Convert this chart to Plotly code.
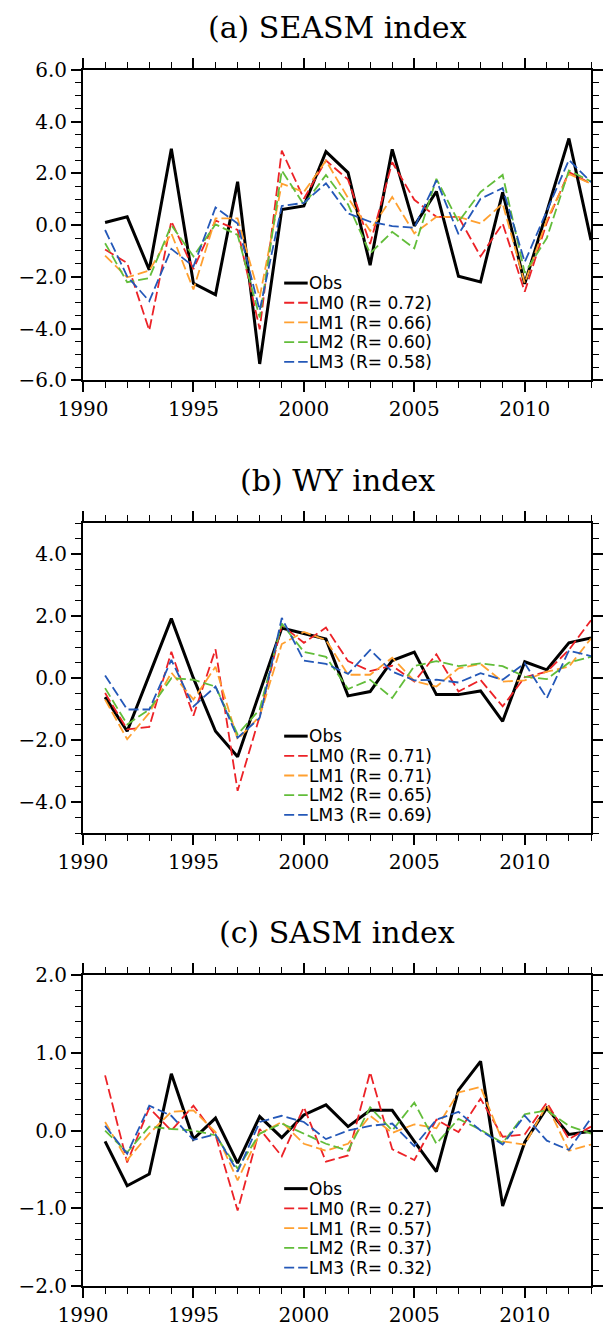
import plotly.graph_objects as go

years = list(range(1991, 2014))

# (a) SEASM index
obs_a = [0.10, 0.32, -1.73, 2.95, -2.25, -2.69, 1.68, -5.37, 0.60, 0.74, 2.84, 2.03,
         -1.55, 2.93, -0.03, 1.30, -1.98, -2.20, 1.27, -2.27, 0.52, 3.35, -0.58]
lm0_a = [-0.94, -1.47, -4.07, 0.15, -1.70, 0.18, -0.19, -4.03, 2.88, 1.02, 2.50, 1.76,
         -0.73, 2.43, 0.98, 0.32, 0.32, -1.21, 0.06, -2.58, 0.10, 2.05, 1.60]
lm1_a = [-1.18, -2.02, -1.76, -0.32, -2.49, 0.26, 0.26, -2.79, 1.60, 1.28, 2.49, 1.05,
         -0.22, 1.09, -0.32, 0.32, 0.32, 0.06, 0.83, -2.24, 0.20, 1.98, 1.60]
lm2_a = [-0.70, -2.21, -2.05, 0.00, -1.21, 0.03, -0.38, -3.58, 2.11, 0.79, 1.94, 0.80,
         -1.09, -0.26, -0.90, 1.79, 0.13, 1.28, 1.94, -1.85, -0.50, 2.11, 1.69]
lm3_a = [-0.19, -1.98, -2.94, -0.92, -1.60, 0.68, 0.06, -3.30, 0.74, 0.86, 1.62, 0.45,
         0.13, -0.04, -0.10, 1.73, -0.35, 1.02, 1.43, -1.43, 0.55, 2.52, 1.66]
r_a = ["0.72", "0.66", "0.60", "0.58"]

# (b) WY index
obs_b = [-0.61, -1.71, 0.10, 1.92, 0.00, -1.71, -2.53, -0.45, 1.62, 1.44, 1.26, -0.57,
         -0.43, 0.57, 0.84, -0.53, -0.53, -0.41, -1.39, 0.53, 0.27, 1.14, 1.30]
lm0_b = [-0.48, -1.65, -1.57, 0.85, -1.21, 0.93, -3.63, -1.23, 1.71, 1.14, 1.63, 0.55,
         0.23, 0.40, -0.11, 0.77, -0.43, -0.06, -0.91, 0.03, 0.21, 0.91, 1.87]
lm1_b = [-0.69, -1.97, -1.12, 0.18, -0.69, 0.37, -1.97, -1.23, 1.10, 1.49, 1.23, 0.11,
         0.11, 0.66, -0.09, -0.27, 0.32, 0.46, -0.11, -0.07, 0.21, 0.37, 1.28]
lm2_b = [-0.32, -1.49, -1.01, 0.00, -0.05, -0.27, -1.81, -1.01, 1.76, 0.85, 0.69, -0.35,
         -0.05, -0.64, 0.39, 0.55, 0.39, 0.48, 0.39, 0.05, -0.03, 0.50, 0.69]
lm3_b = [0.09, -1.01, -1.01, 0.59, -0.91, -0.27, -1.92, -1.28, 1.94, 0.57, 0.46, 0.14,
         0.91, 0.21, -0.07, -0.05, -0.14, 0.16, -0.05, 0.48, -0.64, 0.89, 0.71]
r_b = ["0.71", "0.71", "0.65", "0.69"]

# (c) SASM index
obs_c = [-0.14, -0.71, -0.56, 0.73, -0.11, 0.16, -0.42, 0.18, -0.09, 0.20, 0.33, 0.05,
         0.26, 0.26, -0.14, -0.53, 0.52, 0.89, -0.97, -0.15, 0.29, -0.05, -0.01]
lm0_c = [0.71, -0.41, 0.29, 0.00, 0.32, -0.06, -1.03, 0.02, -0.33, 0.30, -0.40, -0.32,
         0.75, -0.24, -0.38, 0.14, -0.02, 0.41, -0.08, -0.05, 0.36, -0.11, 0.05]
lm1_c = [0.11, -0.38, -0.04, 0.24, 0.26, -0.02, -0.64, -0.04, 0.11, -0.17, -0.26, -0.17,
         0.19, -0.03, 0.08, 0.03, 0.49, 0.56, -0.14, -0.18, 0.33, -0.26, -0.18]
lm2_c = [0.00, -0.28, 0.05, 0.02, 0.00, -0.06, -0.49, -0.04, 0.09, -0.04, -0.17, -0.26,
         0.30, 0.00, 0.36, -0.17, 0.15, 0.01, -0.16, 0.21, 0.26, 0.06, -0.04]
lm3_c = [0.06, -0.30, 0.32, 0.19, -0.12, -0.05, -0.53, 0.11, 0.19, 0.11, -0.11, 0.00,
         0.06, 0.09, -0.20, 0.14, 0.24, 0.00, -0.18, 0.19, -0.13, -0.25, 0.16]
r_c = ["0.27", "0.57", "0.37", "0.32"]

model_names = ["LM0", "LM1", "LM2", "LM3"]
model_colors = ["#ec2227", "#ffa030", "#62bd3a", "#2458b8"]
titles = ["(a) SEASM index", "(b) WY index", "(c) SASM index"]

panels = [
    dict(obs=obs_a, models=[lm0_a, lm1_a, lm2_a, lm3_a], r=r_a, yr=[-6, 6],
         tickvals=[-6, -4, -2, 0, 2, 4, 6], minor=0.5, dom=[0.7449, 1.0]),
    dict(obs=obs_b, models=[lm0_b, lm1_b, lm2_b, lm3_b], r=r_b, yr=[-5, 5],
         tickvals=[-4, -2, 0, 2, 4], minor=0.5, dom=[0.3723, 0.6274]),
    dict(obs=obs_c, models=[lm0_c, lm1_c, lm2_c, lm3_c], r=r_c, yr=[-2, 2],
         tickvals=[-2, -1, 0, 1, 2], minor=0.2, dom=[0.0, 0.2557]),
]

DASH = "10px,4px"
fig = go.Figure()
shapes = []
annotations = []
plot_h = 312.0
row0, row_step = 214.3, 19.8
lx0, lx1 = 0.396, 0.4423

for i, p in enumerate(panels):
    sfx = "" if i == 0 else str(i + 1)
    xa, ya = "x" + sfx, "y" + sfx
    fig.add_trace(go.Scatter(x=years, y=p["obs"], mode="lines", name="Obs",
                             line=dict(color="black", width=3), xaxis=xa, yaxis=ya,
                             showlegend=False))
    for name, col, vals in zip(model_names, model_colors, p["models"]):
        fig.add_trace(go.Scatter(x=years, y=vals, mode="lines", name=name,
                                 line=dict(color=col, width=1.8, dash=DASH),
                                 xaxis=xa, yaxis=ya, showlegend=False))
    axis_common = dict(showline=True, linewidth=2, linecolor="black", mirror="allticks",
                       ticks="outside", ticklen=10, tickwidth=1.6, tickcolor="black",
                       showgrid=False, zeroline=False,
                       tickfont=dict(family="DejaVu Serif", size=20, color="black"))
    fig.layout["xaxis" + sfx] = dict(axis_common, range=[1990, 2013], domain=[0, 1],
                                     anchor=ya, tickvals=[1990, 1995, 2000, 2005, 2010],
                                     minor=dict(dtick=1, tick0=1990, ticklen=6,
                                                tickwidth=1.2, tickcolor="black",
                                                ticks="outside"))
    fig.layout["yaxis" + sfx] = dict(axis_common, range=p["yr"], domain=p["dom"],
                                     anchor=xa, tickvals=p["tickvals"], tickformat=".1f",
                                     minor=dict(dtick=p["minor"], tick0=0, ticklen=6,
                                                tickwidth=1.2, tickcolor="black",
                                                ticks="outside"))
    xd, yd = xa + " domain", ya + " domain"
    annotations.append(dict(text=titles[i], xref=xd, yref=yd, x=0.5,
                            y=1 + 42.5 / plot_h, xanchor="center", yanchor="middle",
                            showarrow=False,
                            font=dict(family="DejaVu Serif", size=30, color="black")))
    labels = ["Obs"] + [f"{n} (R= {r})" for n, r in zip(model_names, p["r"])]
    colors = ["black"] + model_colors
    for k, col in enumerate(colors):
        yy = 1 - (row0 + k * row_step) / plot_h
        shapes.append(dict(type="line", xref=xd, yref=yd, x0=lx0, x1=lx1, y0=yy, y1=yy,
                           line=dict(color=col, width=3 if k == 0 else 1.8,
                                     dash="solid" if k == 0 else DASH)))
    legend_text = "<br>".join(f"<span style='font-size:17px'>{lab}</span>" for lab in labels)
    ymid = 1 - (row0 + 2 * row_step) / plot_h
    annotations.append(dict(text=legend_text, xref=xd, yref=yd, x=lx1 - 0.002, y=ymid,
                            xanchor="left", yanchor="middle", align="left",
                            showarrow=False,
                            font=dict(family="DejaVu Sans", size=row_step / 1.3,
                                      color="black")))

fig.update_layout(width=613, height=1337, margin=dict(l=83, r=10, t=70, b=44),
                  paper_bgcolor="white", plot_bgcolor="white",
                  shapes=shapes, annotations=annotations, showlegend=False)

fig.write_html("out.html")
